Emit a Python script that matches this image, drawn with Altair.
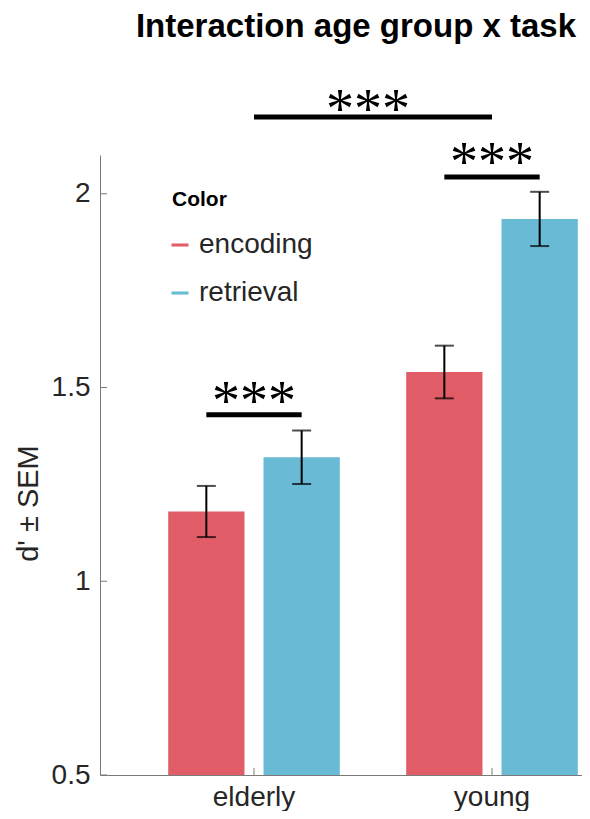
import altair as alt
import pandas as pd

# ---- data ----
groups = ["elderly", "elderly", "young", "young"]
tasks = ["encoding", "retrieval", "encoding", "retrieval"]
means = [1.18, 1.32, 1.54, 1.935]
sems = [0.066, 0.069, 0.068, 0.07]

# pairwise significance (within group): line level and star level in d' units
pair_groups = ["elderly", "young"]
pair_line_y = [1.43, 2.043]
pair_star_y = [1.487, 2.102]
# between-group significance
top_line_y = 2.198
top_star_y = 2.24
star_text = "***"

task_colors = ["#E05D68", "#69BAD4"]
FONT = "Liberation Sans"

df = pd.DataFrame({"group": groups, "task": tasks, "mean": means, "sem": sems})
df["lo"] = df["mean"] - df["sem"]
df["hi"] = df["mean"] + df["sem"]
df["base"] = 0.5

pair_rows = []
for g, ly in zip(pair_groups, pair_line_y):
    for t in ["encoding", "retrieval"]:
        pair_rows.append({"group": g, "task": t, "y": ly, "pair": g})
pair_df = pd.DataFrame(pair_rows)
pair_text_df = pd.DataFrame({"group": pair_groups, "y": pair_star_y, "label": [star_text] * 2})
top_df = pd.DataFrame({"group": ["elderly", "young"], "y": [top_line_y] * 2, "pair": ["top"] * 2})
top_text_df = pd.DataFrame({"group": ["elderly"], "y": [top_star_y], "label": [star_text]})

W, H = 482, 620
AXIS_GREY = "#7a7a7a"

xscale = alt.Scale(domain=["elderly", "young"], paddingInner=0.279, paddingOuter=0.1521, align=0.942)
offscale = alt.Scale(domain=["encoding", "retrieval"], paddingInner=0.2, paddingOuter=0)
yscale = alt.Scale(domain=[0.5, 2.1], nice=False, zero=False)

x_enc = alt.X("group:N", scale=xscale, sort=None,
              axis=alt.Axis(title=None, labelAngle=0, labelFontSize=28, labelFont=FONT,
                            labelColor="#262626", labelPadding=8, ticks=False, tickSize=0,
                            domainColor=AXIS_GREY, domainWidth=1))
y_enc = alt.Y("mean:Q", scale=yscale,
              axis=alt.Axis(title="d' ± SEM", values=[0.5, 1, 1.5, 2], format=".1~f",
                            labelFontSize=28, labelFont=FONT, labelColor="#262626",
                            labelPadding=10, ticks=False, tickSize=0, grid=False,
                            domainColor=AXIS_GREY, domainWidth=1,
                            titleFontSize=29, titleFont=FONT, titleFontWeight="normal",
                            titleColor="#262626", titleAngle=270, titleX=-63, titleY=348,
                            titleAlign="center", titleBaseline="alphabetic"))

bars = alt.Chart(df).mark_bar().encode(
    x=x_enc,
    xOffset=alt.XOffset("task:N", scale=offscale),
    y=y_enc,
    y2="base:Q",
    color=alt.Color("task:N", scale=alt.Scale(domain=["encoding", "retrieval"], range=task_colors),
                    legend=alt.Legend(title="Color", orient="none", legendX=72, legendY=34,
                                      titleFontSize=21, titleFont=FONT, titleFontWeight="bold",
                                      titleColor="black", titlePadding=21,
                                      labelFontSize=28, labelFont=FONT, labelColor="#262626",
                                      labelOffset=5, rowPadding=20, symbolOffset=-6,
                                      symbolType="M-1,-0.18L1,-0.18L1,0.18L-1,0.18Z",
                                      symbolSize=289, symbolStrokeWidth=0)),
)

err = alt.Chart(df).mark_rule(color="black", strokeWidth=2).encode(
    x=alt.X("group:N", scale=xscale, sort=None),
    xOffset=alt.XOffset("task:N", scale=offscale),
    y=alt.Y("lo:Q", scale=yscale),
    y2="hi:Q",
)
caps_lo = alt.Chart(df).mark_tick(color="black", size=19, thickness=2).encode(
    x=alt.X("group:N", scale=xscale, sort=None),
    xOffset=alt.XOffset("task:N", scale=offscale),
    y=alt.Y("lo:Q", scale=yscale),
)
caps_hi = alt.Chart(df).mark_tick(color="black", size=19, thickness=2).encode(
    x=alt.X("group:N", scale=xscale, sort=None),
    xOffset=alt.XOffset("task:N", scale=offscale),
    y=alt.Y("hi:Q", scale=yscale),
)

# inward ticks
ytick_df = pd.DataFrame({"v": [0.5, 1, 1.5, 2]})
yticks = alt.Chart(ytick_df).mark_rule(color=AXIS_GREY, strokeWidth=1).encode(
    y=alt.Y("v:Q", scale=yscale), x=alt.value(0), x2=alt.value(7))
xtick_df = pd.DataFrame({"group": ["elderly", "young"]})
xticks = alt.Chart(xtick_df).mark_rule(color=AXIS_GREY, strokeWidth=1).encode(
    x=alt.X("group:N", scale=xscale, sort=None), y=alt.value(H), y2=alt.value(H - 7))

pair_lines = alt.Chart(pair_df).mark_line(color="black", strokeWidth=5, strokeCap="butt").encode(
    x=alt.X("group:N", scale=xscale, sort=None),
    xOffset=alt.XOffset("task:N", scale=offscale),
    y=alt.Y("y:Q", scale=yscale),
    detail="pair:N",
)
top_line = alt.Chart(top_df).mark_line(color="black", strokeWidth=5, strokeCap="butt").encode(
    x=alt.X("group:N", scale=xscale, sort=None),
    y=alt.Y("y:Q", scale=yscale),
    detail="pair:N",
)
pair_text = alt.Chart(pair_text_df).mark_text(font="Liberation Serif", fontSize=56, color="black",
                                              baseline="alphabetic", dy=27).encode(
    x=alt.X("group:N", scale=xscale, sort=None),
    y=alt.Y("y:Q", scale=yscale),
    text="label:N",
)
top_text = alt.Chart(top_text_df).mark_text(font="Liberation Serif", fontSize=56, color="black",
                                            baseline="alphabetic", dy=27, dx=114).encode(
    x=alt.X("group:N", scale=xscale, sort=None),
    y=alt.Y("y:Q", scale=yscale),
    text="label:N",
)

chart = alt.layer(bars, err, caps_lo, caps_hi, yticks, xticks, pair_lines, top_line,
                  pair_text, top_text).properties(
    width=W, height=H,
    background="white",
    title=alt.TitleParams("Interaction age group x task", font=FONT, fontSize=33,
                          fontWeight="bold", color="black", anchor="middle", dx=15, offset=39),
    autosize=alt.AutoSizeParams(type="none"),
    padding={"left": 92, "top": 147, "right": 0, "bottom": 36},
).configure_view(stroke=None)

chart.save("out.html", embed_options={"renderer": "svg", "actions": False})
